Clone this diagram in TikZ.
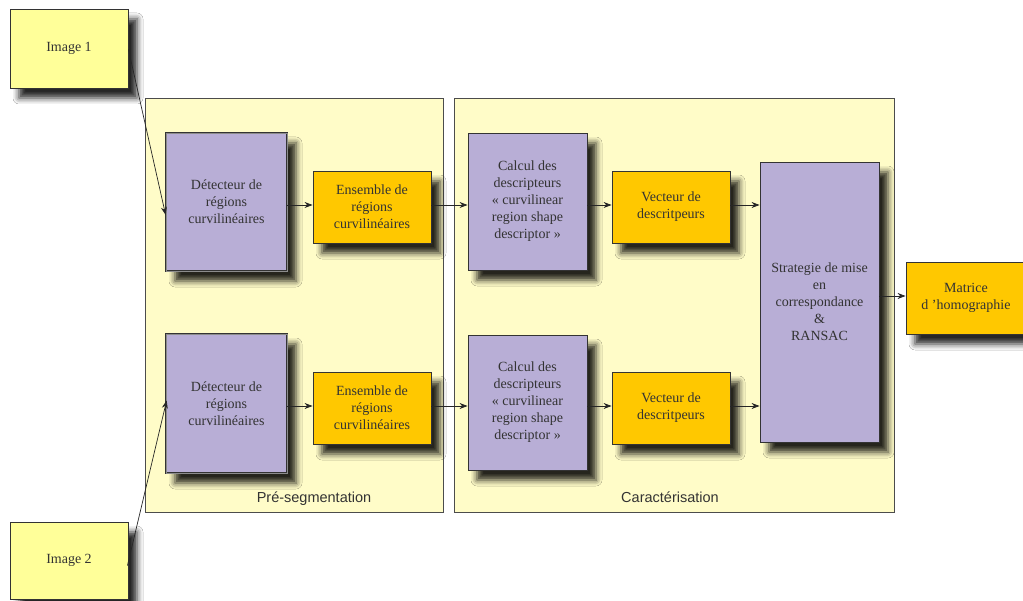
\documentclass[tikz,border=0pt]{standalone}
\usepackage{fontspec}
\setmainfont{Liberation Serif}
\setsansfont{Liberation Sans}
\usetikzlibrary{arrows.meta,shadows.blur,calc}
\definecolor{paleyel}{HTML}{FFFCC8}
\definecolor{imgyel}{HTML}{FFFF99}
\definecolor{lilac}{HTML}{B8AED6}
\definecolor{gold}{HTML}{FFC800}
\definecolor{txt}{HTML}{333333}
\definecolor{edge}{HTML}{333333}
\definecolor{shade}{HTML}{3A3528}
\begin{document}
\begin{tikzpicture}[x=1pt,y=-1pt,
  box/.style={draw=edge, line width=0.9pt, align=center, text=txt,
    font=\fontsize{14}{17}\selectfont, inner sep=0pt, anchor=center,
    blur shadow={shadow xshift=9pt, shadow yshift=-10pt, shadow blur radius=6pt, shadow opacity=85, shadow blur extra rounding=0pt}},
  imgbox/.style={box, fill=imgyel, minimum width=118pt},
  detbox/.style={box, fill=lilac, minimum width=121pt, double=black!45, double distance=0.6pt, line width=0.7pt},
  lilbox/.style={box, fill=lilac, minimum width=119pt},
  goldbox/.style={box, fill=gold, minimum width=118pt, minimum height=72pt},
  group/.style={draw=black!70, line width=0.8pt, fill=paleyel, inner sep=0pt, anchor=center},
  grouplabel/.style={font=\sffamily\fontsize{14.5}{17}\selectfont, text=txt, anchor=base},
  arr/.style={draw=black!85, line width=0.7pt, -{Stealth[length=8pt,width=6pt]}}
]
\useasboundingbox (0,0) rectangle (1023,601);
\fill[white] (0,0) rectangle (1023,601);

% containers
\node[group, minimum width=298pt, minimum height=414pt] (pre) at (294,305) {};
\node[group, minimum width=440pt, minimum height=414pt] (car) at (674.5,305) {};
\node[grouplabel] (prelab) at (314,502) {Pré-segmentation};
\node[grouplabel] (carlab) at (670,502) {Caractérisation};

% inputs
\node[imgbox, minimum height=79pt] (img1) at (69,48.5) {Image 1};
\node[imgbox, minimum height=77pt] (img2) at (69,560.5) {Image 2};

% pre-segmentation
\node[detbox, minimum height=138pt] (det1) at (226.5,202) {Détecteur de\\régions\\curvilinéaires};
\node[detbox, minimum height=139pt] (det2) at (226.5,403.5) {Détecteur de\\régions\\curvilinéaires};
\node[goldbox] (ens1) at (372,207) {Ensemble de\\régions\\curvilinéaires};
\node[goldbox] (ens2) at (372,408) {Ensemble de\\régions\\curvilinéaires};

% caracterisation
\node[lilbox, minimum height=137pt] (calc1) at (527.5,201.5) {Calcul des\\descripteurs\\« curvilinear\\region shape\\descriptor »};
\node[lilbox, minimum height=135pt] (calc2) at (527.5,402.5) {Calcul des\\descripteurs\\« curvilinear\\region shape\\descriptor »};
\node[goldbox] (vec1) at (671,207) {Vecteur de\\descritpeurs};
\node[goldbox] (vec2) at (671,408) {Vecteur de\\descritpeurs};
\node[lilbox, minimum height=280pt] (ransac) at (819.5,302) {Strategie de mise\\en\\correspondance\\\&\\RANSAC};
\node[goldbox, minimum width=120pt] (mat) at (966,298) {Matrice\\d ’homographie};

% rows for arrows
\coordinate (row1) at (0,205);
\coordinate (row2) at (0,406);
\coordinate (rowm) at (0,296);

\draw[arr] ($(img1.east)+(0,1)$) -- ($(det1.west)+(0,13)$);
\draw[arr] ($(img2.east)+(-1,5)$) -- ($(det2.west)+(1,-3)$);

\draw[arr] (det1.east |- row1) -- (ens1.west |- row1);
\draw[arr] (ens1.east |- row1) -- (calc1.west |- row1);
\draw[arr] (calc1.east |- row1) -- (vec1.west |- row1);
\draw[arr] (vec1.east |- row1) -- (ransac.west |- row1);

\draw[arr] (det2.east |- row2) -- (ens2.west |- row2);
\draw[arr] (ens2.east |- row2) -- (calc2.west |- row2);
\draw[arr] (calc2.east |- row2) -- (vec2.west |- row2);
\draw[arr] (vec2.east |- row2) -- (ransac.west |- row2);

\draw[arr] (ransac.east |- rowm) -- (mat.west |- rowm);
\end{tikzpicture}
\end{document}
